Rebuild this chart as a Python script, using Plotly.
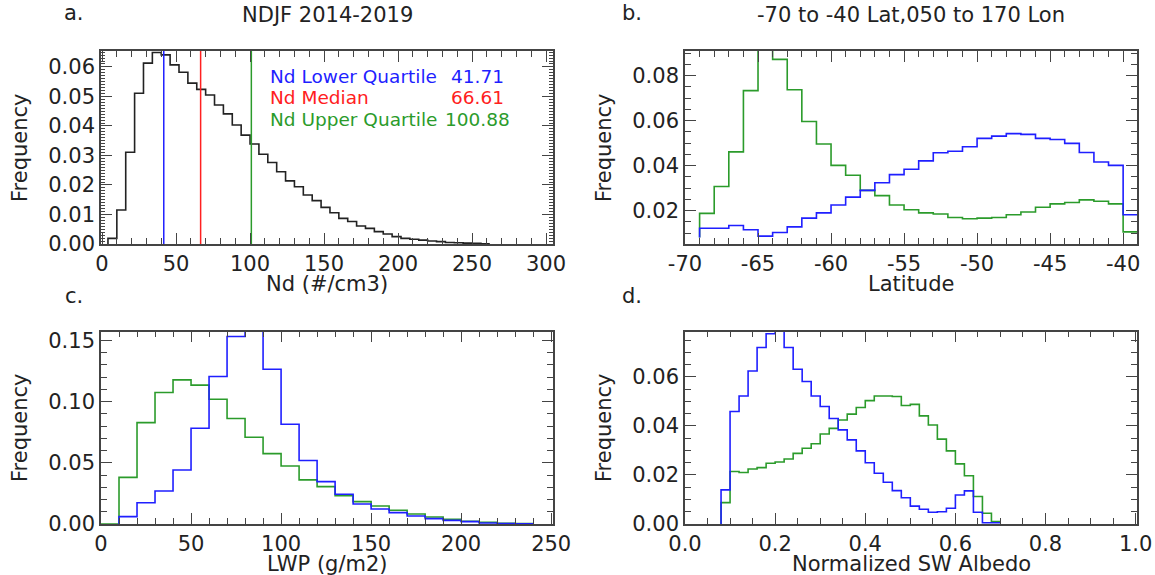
import plotly.graph_objects as go

W, H = 1155, 575

# ---------------- Panel a: Nd histogram (bin width 6) ----------------
nd_left = [4, 10, 16, 22, 28, 34, 40, 46, 52, 58, 64, 70, 76, 82, 88, 94, 100, 106,
           112, 118, 124, 130, 136, 142, 148, 154, 160, 166, 172, 178, 184, 190, 196,
           202, 208, 214, 220, 226, 232, 238, 244, 250, 256]
nd_right_end = 262
nd_freq = [0.0019, 0.0115, 0.0311, 0.0511, 0.0613, 0.0649, 0.0641, 0.0607, 0.0582,
           0.0545, 0.0524, 0.0505, 0.0471, 0.0441, 0.0403, 0.0369, 0.0339, 0.0304,
           0.0276, 0.0245, 0.0214, 0.0194, 0.0166, 0.0147, 0.0124, 0.0106, 0.0087,
           0.0076, 0.0061, 0.0053, 0.0042, 0.0034, 0.0025, 0.0019, 0.0016, 0.0013,
           0.0010, 0.0008, 0.0005, 0.0004, 0.0003, 0.0002, 0.0001]
quart_names = ["Nd Lower Quartile", "Nd Median", "Nd Upper Quartile"]
quart_values = [41.71, 66.61, 100.88]
quart_labels = ["41.71", "66.61", "100.88"]

# ---------------- Panel b: Latitude histogram (1 deg bins) ----------------
lat_left = [-69, -68, -67, -66, -65, -64, -63, -62, -61, -60, -59, -58, -57, -56, -55,
            -54, -53, -52, -51, -50, -49, -48, -47, -46, -45, -44, -43, -42, -41, -40]
lat_right_end = -39
lat_base = 0.0081
lat_blue = [0.0122, 0.0122, 0.0134, 0.0115, 0.0087, 0.0103, 0.0128, 0.0167, 0.0190,
            0.0225, 0.0260, 0.0290, 0.0324, 0.0360, 0.0384, 0.0421, 0.0457, 0.0464,
            0.0484, 0.0521, 0.0531, 0.0542, 0.0539, 0.0521, 0.0516, 0.0499, 0.0458,
            0.0416, 0.0401, 0.0182]
lat_green = [0.0188, 0.0307, 0.0461, 0.0733, 0.0950, 0.0872, 0.0737, 0.0596, 0.0496,
             0.0401, 0.0357, 0.0290, 0.0267, 0.0225, 0.0204, 0.0190, 0.0185, 0.0170,
             0.0164, 0.0167, 0.0170, 0.0182, 0.0194, 0.0215, 0.0230, 0.0236, 0.0248,
             0.0242, 0.0230, 0.0106]

# ---------------- Panel c: LWP histogram (10 g/m2 bins) ----------------
lwp_left = [0, 10, 20, 30, 40, 50, 60, 70, 80, 90, 100, 110, 120, 130, 140, 150, 160,
            170, 180, 190, 200, 210, 220, 230]
lwp_right_end = 240
lwp_green = [0.0, 0.0381, 0.0828, 0.1074, 0.1177, 0.1134, 0.1019, 0.0861, 0.0708,
             0.0575, 0.0474, 0.0360, 0.0305, 0.0232, 0.0183, 0.0147, 0.0112, 0.0082,
             0.0057, 0.0038, 0.0022, 0.0014, 0.0005, 0.0003]
# blue series starts at the 10 g/m2 bin
lwp_blue = [0.0060, 0.0174, 0.0270, 0.0441, 0.0782, 0.1204, 0.1531, 0.1700, 0.1264,
            0.0815, 0.0518, 0.0346, 0.0243, 0.0163, 0.0123, 0.0093, 0.0065, 0.0044,
            0.0030, 0.0019, 0.0008, 0.0003, 0.0001]

# ---------------- Panel d: Normalized SW albedo (0.02 bins) ----------------
alb_left = [0.08, 0.10, 0.12, 0.14, 0.16, 0.18, 0.20, 0.22, 0.24, 0.26, 0.28, 0.30,
            0.32, 0.34, 0.36, 0.38, 0.40, 0.42, 0.44, 0.46, 0.48, 0.50, 0.52, 0.54,
            0.56, 0.58, 0.60, 0.62, 0.64, 0.66, 0.68]
alb_right_end = 0.70
alb_blue = [0.0139, 0.0459, 0.0522, 0.0624, 0.0720, 0.0776, 0.0810, 0.0720, 0.0631,
            0.0581, 0.0522, 0.0479, 0.0430, 0.0384, 0.0343, 0.0298, 0.0250, 0.0207,
            0.0170, 0.0136, 0.0107, 0.0073, 0.0060, 0.0048, 0.0050, 0.0064, 0.0118,
            0.0135, 0.0048, 0.0005]
alb_green = [0.0087, 0.0214, 0.0210, 0.0224, 0.0230, 0.0248, 0.0253, 0.0265, 0.0288,
             0.0309, 0.0327, 0.0367, 0.0390, 0.0424, 0.0448, 0.0475, 0.0503, 0.0522,
             0.0522, 0.0520, 0.0483, 0.0488, 0.0441, 0.0404, 0.0346, 0.0298, 0.0245,
             0.0197, 0.0112, 0.0044, 0.0010]

# tick labels
a_xticks = [0, 50, 100, 150, 200, 250, 300]
a_yticks = [0.00, 0.01, 0.02, 0.03, 0.04, 0.05, 0.06]
b_xticks = [-70, -65, -60, -55, -50, -45, -40]
b_xticktext = ["-70", "-65", "-60", "-55", "-50", "-45", "-40"]
b_yticks = [0.02, 0.04, 0.06, 0.08]
c_xticks = [0, 50, 100, 150, 200, 250]
c_yticks = [0.00, 0.05, 0.10, 0.15]
d_xticks = [0.0, 0.2, 0.4, 0.6, 0.8, 1.0]
d_yticks = [0.00, 0.02, 0.04, 0.06]

BLACK = "#222222"
BLUE = "#1f1fff"
RED = "#ff2020"
GREEN = "#2b9b2b"
AXC = "#444444"
FONT = "DejaVu Sans"
FS = 21
FS_LEG = 18.5


def step_xy(left, right_end, vals, base=0.0):
    xs = [left[0]] + [left[0]] + list(left[1:len(vals)]) + [right_end]
    ys = [base] + list(vals) + [vals[-1]]
    return xs, ys


fig = go.Figure()


def add_step(left, right_end, vals, color, xa, ya, base=0.0):
    xs, ys = step_xy(left, right_end, vals, base)
    fig.add_trace(go.Scatter(x=xs, y=ys, mode="lines", line=dict(color=color, width=1.6, shape="hv"),
                             xaxis=xa, yaxis=ya, showlegend=False, hoverinfo="skip"))


# Panel a
add_step(nd_left, nd_right_end, nd_freq, BLACK, "x", "y")
for v, c in zip(quart_values, [BLUE, RED, GREEN]):
    fig.add_trace(go.Scatter(x=[v, v], y=[0, 0.0654], mode="lines", line=dict(color=c, width=1.5),
                             xaxis="x", yaxis="y", showlegend=False, hoverinfo="skip"))

# Panel b
add_step(lat_left, lat_right_end, lat_green, GREEN, "x2", "y2", lat_base)
add_step(lat_left, lat_right_end, lat_blue, BLUE, "x2", "y2", lat_base)

# Panel c
add_step(lwp_left, lwp_right_end, lwp_green, GREEN, "x3", "y3")
add_step(lwp_left[1:], lwp_right_end, lwp_blue, BLUE, "x3", "y3")

# Panel d
add_step(alb_left, alb_right_end, alb_green, GREEN, "x4", "y4")
add_step(alb_left, alb_right_end, alb_blue, BLUE, "x4", "y4")


def px_x(p):
    return p / W


def px_y(p):
    return 1 - p / H


def axis(domain, rng, tickvals, ticktext, minor_dtick, anchor, major_len=11, minor_len=6):
    return dict(
        domain=domain, range=rng, anchor=anchor, automargin=False,
        tickmode="array", tickvals=tickvals, ticktext=ticktext,
        ticks="inside", ticklen=major_len, tickwidth=1.3, tickcolor=AXC,
        showline=True, linecolor=AXC, linewidth=1.6, mirror="allticks",
        showgrid=False, zeroline=False,
        tickfont=dict(family=FONT, size=FS, color=BLACK),
        minor=dict(dtick=minor_dtick, tick0=0, ticks="inside", ticklen=minor_len,
                   tickwidth=1.1, tickcolor=AXC, showgrid=False),
    )


left_dom = [px_x(101), px_x(553)]
right_dom = [px_x(685), px_x(1137)]
top_dom = [px_y(244), px_y(51)]
bot_dom = [px_y(524), px_y(331.5)]

fig.update_layout(
    width=W, height=H,
    margin=dict(l=0, r=0, t=0, b=0, autoexpand=False),
    paper_bgcolor="white", plot_bgcolor="white",
    xaxis=axis(left_dom, [-0.7, 304.7], a_xticks, [str(t) for t in a_xticks], 10, "y"),
    yaxis=axis(top_dom, [0, 0.0654], a_yticks, ["%.2f" % t for t in a_yticks], 0.001, "x",
               major_len=11, minor_len=4),
    xaxis2=axis(right_dom, [-70, -39.05], b_xticks, b_xticktext, 1, "y2"),
    yaxis2=axis(top_dom, [0.0052, 0.0909], b_yticks, ["%.2f" % t for t in b_yticks], 0.005, "x2"),
    xaxis3=axis(left_dom, [0, 251], c_xticks, [str(t) for t in c_xticks], 10, "y3"),
    yaxis3=axis(bot_dom, [0, 0.1572], c_yticks, ["%.2f" % t for t in c_yticks], 0.01, "x3"),
    xaxis4=axis(right_dom, [0, 1.003], d_xticks, ["%.1f" % t for t in d_xticks], 0.05, "y4"),
    yaxis4=axis(bot_dom, [0, 0.0785], d_yticks, ["%.2f" % t for t in d_yticks], 0.005, "x4"),
)

ann = []


def text(s, x, y, color=BLACK, size=FS, angle=0, xanchor="center"):
    ann.append(dict(text=s, x=px_x(x), y=px_y(y), xref="paper", yref="paper",
                    xanchor=xanchor, yanchor="middle", showarrow=False, textangle=angle,
                    font=dict(family=FONT, size=size, color=color)))


# panel letters and titles
text("a.", 74, 13)
text("NDJF 2014-2019", 327, 15)
text("b.", 632, 13)
text("-70 to -40 Lat,050 to 170 Lon", 911, 15)
text("c.", 74, 296)
text("d.", 632, 296)
# axis titles
text("Nd (#/cm3)", 327, 284)
text("Latitude", 911, 284)
text("LWP (g/m2)", 327, 564)
text("Normalized SW Albedo", 911, 564)
text("Frequency", 20, 148, angle=-90)
text("Frequency", 604, 148, angle=-90)
text("Frequency", 20, 428, angle=-90)
text("Frequency", 604, 428, angle=-90)
# quartile legend in panel a
for i, (n, lab, c) in enumerate(zip(quart_names, quart_labels, [BLUE, RED, GREEN])):
    yy = 77 + 21 * i
    text(n, 268, yy, color=c, size=FS_LEG, xanchor="left")
    text(lab, 477, yy, color=c, size=FS_LEG)

fig.update_layout(annotations=ann)
fig.write_html("out.html", config={"displayModeBar": False},
               post_script="document.body.style.margin='0px';document.body.style.overflow='hidden';")
